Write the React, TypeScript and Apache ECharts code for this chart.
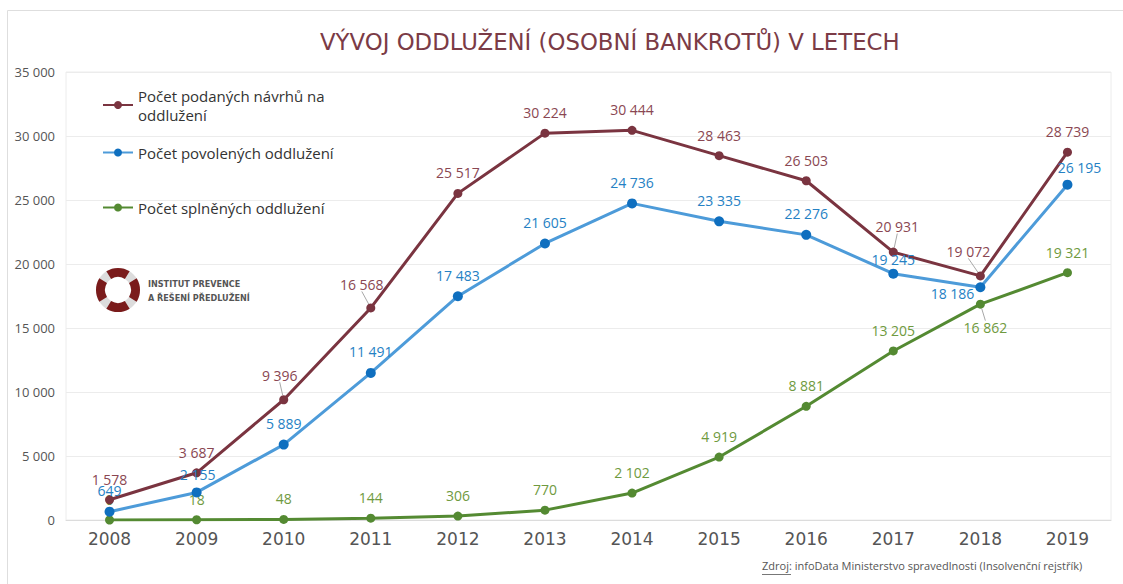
import React, { useEffect, useRef } from "react";
import * as echarts from "echarts";

const years = ["2008", "2009", "2010", "2011", "2012", "2013", "2014", "2015", "2016", "2017", "2018", "2019"];
const podane = [1578, 3687, 9396, 16568, 25517, 30224, 30444, 28463, 26503, 20931, 19072, 28739];
const povolene = [649, 2155, 5889, 11491, 17483, 21605, 24736, 23335, 22276, 19245, 18186, 26195];
const splnene = [0, 18, 48, 144, 306, 770, 2102, 4919, 8881, 13205, 16862, 19321];
const yTicks = { min: 0, max: 35000, interval: 5000 };

const names = [
  "Počet podaných návrhů na oddlužení",
  "Počet povolených oddlužení",
  "Počet splněných oddlužení",
];
const title = "VÝVOJ ODDLUŽENÍ (OSOBNÍ BANKROTŮ) V LETECH";
const source = "Zdroj: infoData Ministerstvo spravedlnosti (Insolvenční rejstřík)";
const logoLines = ["INSTITUT PREVENCE", "A ŘEŠENÍ PŘEDLUŽENÍ"];

const fmt = (v: number) => String(v).replace(/\B(?=(\d{3})+(?!\d))/g, " ");
const FONT = "'Open Sans', 'Noto Sans', sans-serif";
const WIDE = "'DejaVu Sans', 'Open Sans', sans-serif";

export default function App() {
  const ref = useRef<HTMLDivElement>(null);
  useEffect(() => {
    if (!ref.current) return;
    const chart = echarts.init(ref.current, undefined, { renderer: "svg" });

    const maroon = "#7a3440";
    const blueLine = "#4d9bd9";
    const blueDot = "#0f6fbf";
    const green = "#548a32";

    const maroonMoves: Record<number, [number, number]> = {
      2: [-4, -4],
      3: [-9, -3],
      9: [4, -5],
      10: [-12, -4],
    };
    const greenMoves: Record<number, [number, number]> = { 10: [5, 4] };

    const maroonData = podane.map((v, i) => {
      const d: any = { value: v };
      if (i === 1) d.label = { offset: [-12, 0] };
      if (maroonMoves[i]) d.labelLine = { show: true };
      return d;
    });
    const blueData = povolene.map((v, i) => {
      const d: any = { value: v };
      if (i === 1) d.label = { offset: [1, 3] };
      if (i === 9) d.label = { offset: [0, 7] };
      if (i === 10) d.label = { position: "left", distance: 3, offset: [2, 6] };
      if (i === 11) d.label = { offset: [12, 4] };
      return d;
    });
    const greenData = splnene.map((v, i) => {
      const d: any = { value: v };
      if (i === 10) {
        d.label = { position: "bottom", distance: 8 };
        d.labelLine = { show: true };
      }
      return d;
    });

    const labelBase = (color: string, dist: number) => ({
      show: true,
      position: "top",
      distance: dist,
      color,
      fontSize: 14,
      fontFamily: FONT,
      fontWeight: 500,
      formatter: (p: any) => fmt(p.value),
    });
    const guide = { show: false, lineStyle: { color: "#a8a8a8", width: 1 } };

    const legendBase = {
      orient: "vertical",
      itemWidth: 30,
      itemHeight: 10,
      itemGap: 6,
      textStyle: { color: "#333", fontSize: 15, fontFamily: FONT, lineHeight: 19 },
      selectedMode: false,
    };

    chart.setOption({
      animation: false,
      backgroundColor: "#fff",
      title: {
        text: title,
        left: 315,
        top: 25,
        textStyle: { color: "#7b3b46", fontSize: 22.8, fontWeight: "normal", fontFamily: WIDE },
      },
      legend: [
        {
          ...legendBase,
          left: 97,
          top: 81,
          data: [names[0]],
          formatter: () => "Počet podaných návrhů na\noddlužení",
        },
        { ...legendBase, left: 97, top: 138, data: [names[1]] },
        { ...legendBase, left: 97, top: 193, data: [names[2]] },
      ],
      grid: {
        left: 66,
        right: 12,
        top: 72,
        bottom: 64,
        show: true,
        borderColor: "#ececec",
        borderWidth: 1,
        containLabel: false,
      },
      xAxis: {
        type: "category",
        data: years,
        boundaryGap: true,
        axisLine: { lineStyle: { color: "#dcdcdc" } },
        axisTick: { show: false },
        axisLabel: { color: "#555", fontSize: 17, fontFamily: WIDE, margin: 10 },
      },
      yAxis: {
        type: "value",
        min: yTicks.min,
        max: yTicks.max,
        interval: yTicks.interval,
        axisLine: { show: false },
        axisTick: { show: false },
        splitLine: { lineStyle: { color: "#ececec" } },
        axisLabel: {
          color: "#555",
          fontSize: 13,
          fontFamily: FONT,
          margin: 11,
          formatter: (v: number) => fmt(v),
        },
      },
      series: [
        {
          name: names[0],
          type: "line",
          data: maroonData,
          symbol: "circle",
          symbolSize: 9,
          lineStyle: { color: maroon, width: 3 },
          itemStyle: { color: maroon },
          label: labelBase("#8a4752", 9),
          labelLine: guide,
          labelLayout: (p: any) => {
            const m = maroonMoves[p.dataIndex];
            return m ? { dx: m[0], dy: m[1] } : {};
          },
          z: 3,
        },
        {
          name: names[1],
          type: "line",
          data: blueData,
          symbol: "circle",
          symbolSize: 10,
          lineStyle: { color: blueLine, width: 3 },
          itemStyle: { color: blueDot },
          label: labelBase("#2581c4", 9),
          z: 4,
        },
        {
          name: names[2],
          type: "line",
          data: greenData,
          symbol: "circle",
          symbolSize: 9,
          lineStyle: { color: green, width: 3 },
          itemStyle: { color: green },
          label: labelBase("#6f9a40", 9),
          labelLine: guide,
          labelLayout: (p: any) => {
            const m = greenMoves[p.dataIndex];
            return m ? { dx: m[0], dy: m[1] } : {};
          },
          z: 2,
        },
      ],
      graphic: [
        {
          type: "polyline",
          shape: { points: [[7.5, 600], [7.5, 10.5], [1123, 10.5]] },
          style: { stroke: "#dedede", lineWidth: 1, fill: "none" },
          silent: true,
        },
        {
          type: "ring",
          shape: { cx: 118, cy: 290, r: 22, r0: 13 },
          style: { fill: "#dcdcdc" },
        },
        ...[0, 90, 180, 270].map((a) => ({
          type: "sector",
          shape: {
            cx: 118,
            cy: 290,
            r: 22,
            r0: 13,
            startAngle: ((a - 32) * Math.PI) / 180,
            endAngle: ((a + 32) * Math.PI) / 180,
          },
          style: { fill: "#7a1b1b" },
        })),
        {
          type: "text",
          left: 148,
          top: 277,
          style: {
            text: logoLines.join("\n"),
            fill: "#555",
            fontSize: 9,
            lineHeight: 14,
            fontWeight: "bold",
            fontFamily: "'DejaVu Sans Condensed', 'Liberation Sans Narrow', sans-serif",
          },
        },
        {
          type: "text",
          left: 762,
          top: 560,
          style: { text: source, fill: "#555", fontSize: 11, fontFamily: FONT },
        },
        {
          type: "line",
          shape: { x1: 762, y1: 574.5, x2: 791, y2: 574.5 },
          style: { stroke: "#777", lineWidth: 1 },
        },
      ],
    });

    return () => chart.dispose();
  }, []);

  return (
    <div
      ref={ref}
      style={{ position: "absolute", left: 0, top: 0, width: 1123, height: 584, background: "#fff" }}
    />
  );
}
